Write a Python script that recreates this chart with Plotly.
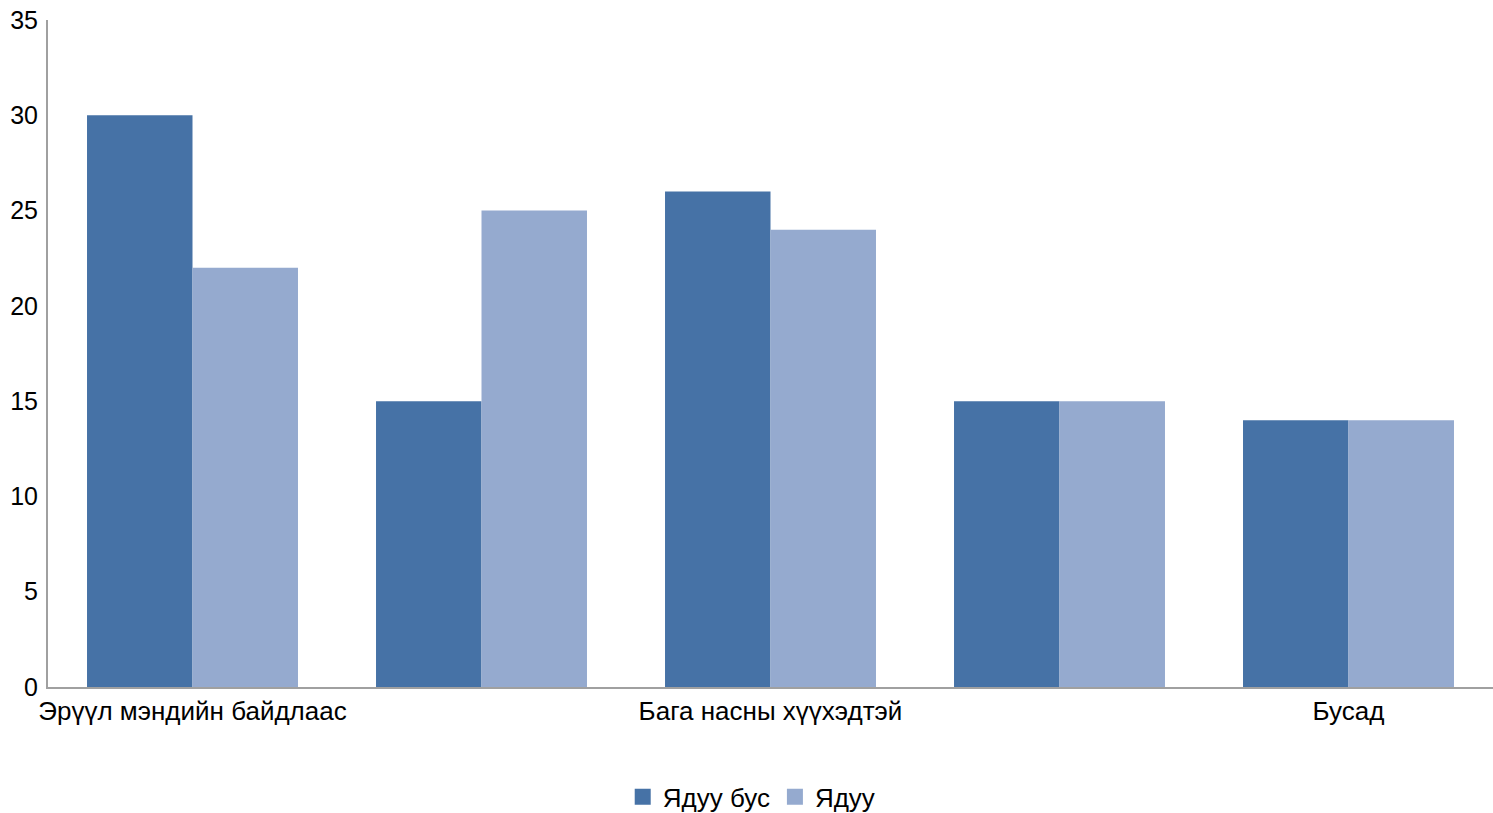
import plotly.graph_objects as go

categories = ["Эрүүл мэндийн байдлаас", "", "Бага насны хүүхэдтэй", "", "Бусад"]
non_poor = [30, 15, 26, 15, 14]
poor = [22, 25, 24, 15, 14]
series_names = ["Ядуу бус", "Ядуу"]
colors = ["#4672A6", "#95AACF"]

x = list(range(len(categories)))

fig = go.Figure()
fig.add_trace(go.Bar(x=x, y=non_poor, name=series_names[0], marker_color=colors[0],
                     marker_line_width=0, showlegend=False))
fig.add_trace(go.Bar(x=x, y=poor, name=series_names[1], marker_color=colors[1],
                     marker_line_width=0, showlegend=False))
# legend entries with larger square swatches
for name, c in zip(series_names, colors):
    fig.add_trace(go.Scatter(x=[None], y=[None], mode="markers", name=name,
                             marker=dict(symbol="square", size=16, color=c)))

fig.update_layout(
    width=1493, height=813,
    margin=dict(l=48, r=0, t=20, b=126, autoexpand=False),
    paper_bgcolor="white", plot_bgcolor="white",
    barmode="group", bargap=0.27, bargroupgap=0,
    font=dict(family="Liberation Sans, Arial", size=26, color="black"),
    showlegend=True,
    legend=dict(orientation="h", x=0.487, xanchor="center", yref="container", y=0.02,
                yanchor="middle", font=dict(size=26), traceorder="normal",
                itemwidth=30, tracegroupgap=0),
    xaxis=dict(range=[-0.5, 4.5], tickmode="array", tickvals=x, ticktext=categories,
               showline=True, linecolor="#A0A0A0", linewidth=2, showgrid=False,
               ticks="", zeroline=False, automargin=False, tickfont=dict(size=26)),
    yaxis=dict(range=[0, 35], dtick=5, showline=True, linecolor="#A0A0A0", linewidth=2,
               showgrid=False, zeroline=False, ticks="outside", ticklen=3,
               tickcolor="rgba(0,0,0,0)", automargin=False, tickfont=dict(size=25)),
)

fig.write_html("out.html", config={"displayModeBar": False},
               post_script="document.body.style.margin='0';document.body.style.overflow='hidden';")
